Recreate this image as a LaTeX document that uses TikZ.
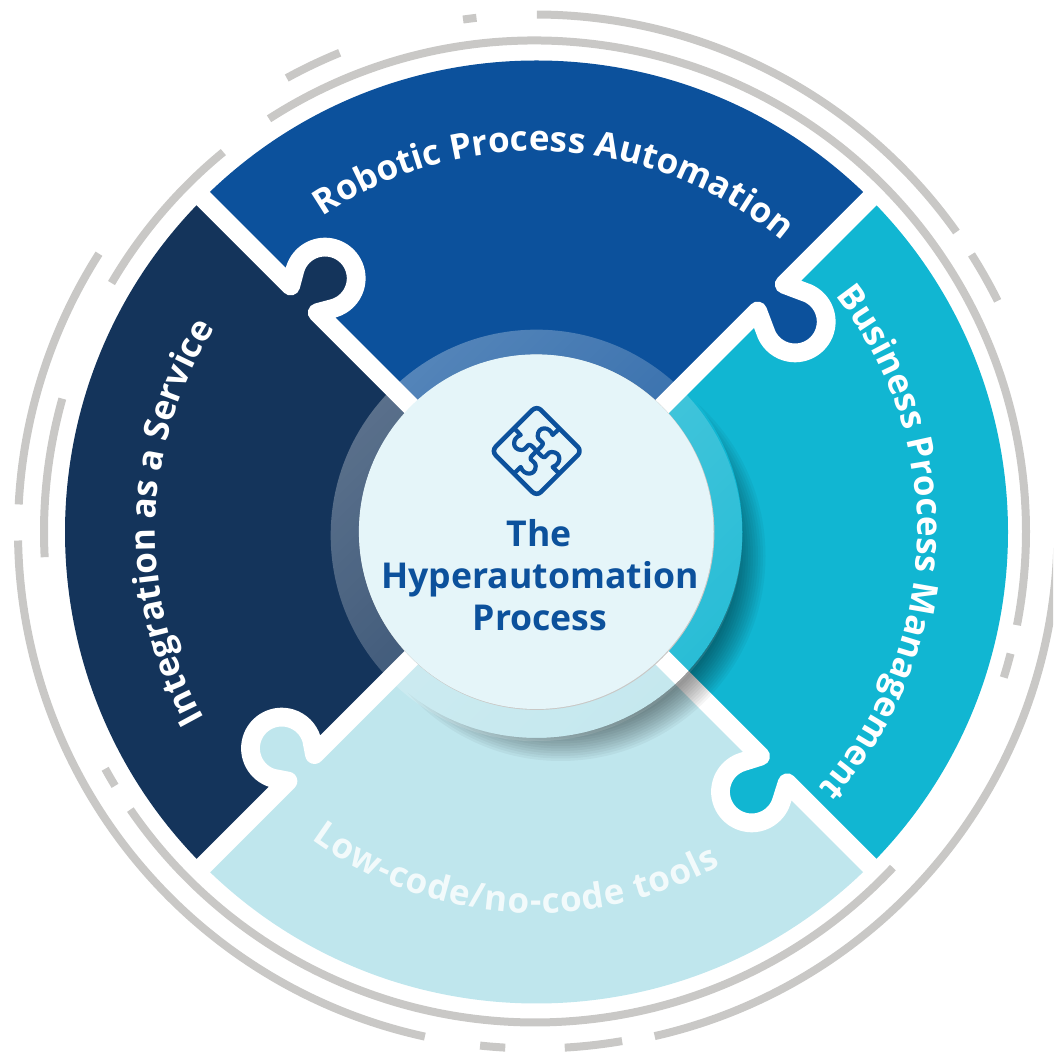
\documentclass[tikz,border=0pt]{standalone}
\usepackage{fontspec}
\setmainfont{Open Sans}
\usetikzlibrary{decorations.text,fadings}
\definecolor{robblue}{HTML}{0C519C}
\definecolor{navy}{HTML}{14345B}
\definecolor{teal}{HTML}{11B6D2}
\definecolor{pale}{HTML}{BFE6ED}
\definecolor{ringgray}{HTML}{C9C8C6}
\definecolor{hub}{HTML}{E5F5F9}
\tikzset{
  ringseg/.style={draw=ringgray,line width=8pt,line cap=butt},
  gapline/.style={draw=white,line width=18.8pt,line join=round,line cap=butt},
  iconline/.style={draw=robblue,line width=4.6pt,line join=round,line cap=round},
  curvedlabel/.style={decorate,decoration={text along path,text align=fit to path,text={#1}}},
}
\tikzfading[name=halofade,top color=transparent!70,bottom color=transparent!90]
\newcommand{\KnobFill}[4]{% x y(px) rot colour
  \begin{scope}[shift={(#1,1057-#2)},rotate=#3]
    \fill[#4] (0,0) circle[radius=31.2];
  \end{scope}}
\newcommand{\GapLine}[6]{% x y rot d xout xin
  \begin{scope}[shift={(#1,1057-#2)},rotate=#3]
    \draw[gapline] (#5,#4) -- (18.8,#4) -- (28:31.2) arc[start angle=28,end angle=-208,radius=31.2] -- (-18.8,#4) -- (#6,#4);
  \end{scope}}
\newcommand{\NeckFill}[5]{% x y rot d colour
  \begin{scope}[shift={(#1,1057-#2)},rotate=#3]
    \fill[#5] (-15,0) rectangle (15,#4+2);
  \end{scope}}
\newcommand{\RingArc}[3]{\draw[ringseg] (535,525.5)++(#2:#1) arc[start angle=#2,end angle=#3,radius=#1];}
\begin{document}
\begin{tikzpicture}[x=1pt,y=1pt]
\useasboundingbox (0,0) rectangle (1053,1057);
\clip (0,0) rectangle (1053,1057);
\coordinate (C) at (536.5,525);
% rings
\RingArc{517}{89.8}{35.4}
\RingArc{517}{32.4}{26.5}
\draw[ringseg] (540,525.5)++(-1:517.5) arc[start angle=-1,end angle=-77.2,radius=517.5];
\RingArc{517}{-80.3}{-86.7}
\RingArc{517}{-93.3}{-96.1}
\RingArc{517}{257.7}{181}
\RingArc{517}{177}{147.5}
\RingArc{517}{118.7}{112.2}
\RingArc{517}{98}{96.5}
\RingArc{491}{122.8}{-11}
\RingArc{491}{-14.4}{-17.3}
\RingArc{491}{-43.2}{-145.5}
\RingArc{491}{211.2}{208.9}
\RingArc{491}{183}{164.3}
\RingArc{491}{149.6}{129.4}
% wedges
\fill[robblue] (C) -- ++(135:471.5) arc[start angle=135,end angle=45,radius=471.5] -- cycle;
\fill[teal] (C) -- ++(45:471.5) arc[start angle=45,end angle=-45,radius=471.5] -- cycle;
\fill[pale] (C) -- ++(-45:471.5) arc[start angle=-45,end angle=-135,radius=471.5] -- cycle;
\fill[navy] (C) -- ++(225:471.5) arc[start angle=225,end angle=135,radius=471.5] -- cycle;
% knobs
\NeckFill{325}{278.3}{135}{29.8}{navy}
\NeckFill{795}{321.7}{45}{34}{robblue}
\NeckFill{751.7}{791.7}{-45}{31.4}{teal}
\NeckFill{281.7}{748.3}{-135}{27.6}{pale}
\KnobFill{325}{278.3}{135}{navy}
\KnobFill{795}{321.7}{45}{robblue}
\KnobFill{751.7}{791.7}{-45}{teal}
\KnobFill{281.7}{748.3}{-135}{pale}
\GapLine{325}{278.3}{135}{29.8}{151}{-229}
\GapLine{795}{321.7}{45}{34}{148.5}{-231.5}
\GapLine{751.7}{791.7}{-45}{31.4}{144.2}{-235.8}
\GapLine{281.7}{748.3}{-135}{27.6}{147}{-233}
% shadow
\begin{scope}[even odd rule]
  \clip (0,0) rectangle (1053,1057) (C) circle[radius=206];
  \foreach \r in {165,167.5,...,205}{
    \fill[black,opacity=0.04] (C) ++(24,-24) circle[radius=\r];
  }
\end{scope}
% halo
\fill[white,path fading=halofade,fading angle=45] (C) circle[radius=207];
% hub
\fill[ringgray] (536.8,524.7) circle[radius=177.6];
\node[circle,fill=hub,minimum size=354.6pt,inner sep=0pt] (hubdisk) at (536.2,525.3) {};
% icon
\begin{scope}[shift={(536.7,606)}]
  \draw[iconline,rotate=45,rounded corners=6pt] (-32,-32) rectangle (32,32);
  \foreach \a in {0,-90,-180,-270}{
    \draw[iconline,line width=4.2pt,line cap=butt,rotate=\a] (-22.3,22.5) -- (-16,16) .. controls (-25,13) and (-25,1) .. (-15,1) .. controls (-11,1) and (-11,4.5) .. (-8.3,6) .. controls (-6,7) and (-4,4) .. (0,0);
  }
\end{scope}
% hub text
\node[font=\bfseries\fontsize{35.6}{36}\selectfont,text=robblue,anchor=base] (hubthe) at (539,1057-547) {The};
\node[font=\bfseries\fontsize{35.6}{36}\selectfont,text=robblue,anchor=base] (hubhyper) at (540,1057-589) {Hyperautomation};
\node[font=\bfseries\fontsize{35.6}{36}\selectfont,text=robblue,anchor=base] (hubproc) at (540,1057-631) {Process};
% curved labels
\path[curvedlabel={|\bfseries\fontsize{35}{35}\selectfont\color{white}|Robotic Process Automation}] (C)++(124.1:381) arc[start angle=124.1,end angle=50.3,radius=381];
\path[curvedlabel={|\bfseries\fontsize{35}{35}\selectfont\color{white}|Integration as a Service}] (C)++(209.3:381) arc[start angle=209.3,end angle=147.6,radius=381];
\path[curvedlabel={|\bfseries\fontsize{35}{35}\selectfont\color{white}|Business Process Management}] (C)++(38.4:381) arc[start angle=38.4,end angle=-41.7,radius=381];
\path[curvedlabel={|\bfseries\fontsize{35}{35}\selectfont\color{white!80!pale}|Low-code/no-code tools}] (C)++(233.8:381) arc[start angle=233.8,end angle=298.9,radius=381];
\end{tikzpicture}
\end{document}
